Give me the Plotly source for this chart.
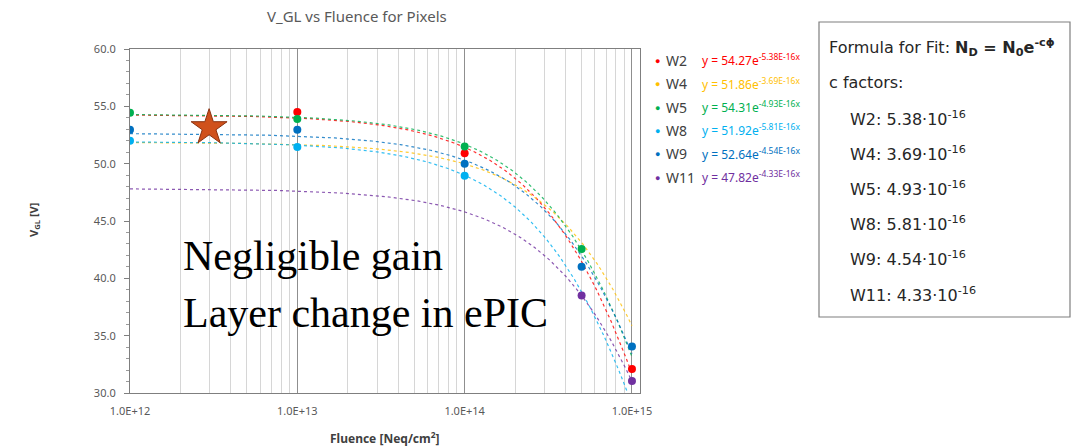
import numpy as np
import plotly.graph_objects as go

# Measured points per wafer
w2_x = [1e13, 1e14, 1e15]
w2_y = [54.5, 50.9, 32.1]
w5_x = [1e12, 1e13, 1e14, 5e14]
w5_y = [54.45, 53.9, 51.5, 42.55]
w8_x = [1e12, 1e13, 1e14]
w8_y = [52.0, 51.45, 48.95]
w9_x = [1e12, 1e13, 1e14, 5e14, 1e15]
w9_y = [52.95, 52.95, 50.0, 41.0, 34.05]
w11_x = [5e14, 1e15]
w11_y = [38.5, 31.05]
w4_x = []
w4_y = []

# Exponential fit parameters y = N0 * exp(-c * fluence)
names = ["W2", "W4", "W5", "W8", "W9", "W11"]
fit_n0 = [54.27, 51.86, 54.31, 51.92, 52.64, 47.82]
fit_c = [5.38e-16, 3.69e-16, 4.93e-16, 5.81e-16, 4.54e-16, 4.33e-16]
fit_c_label = ["5.38E-16x", "3.69E-16x", "4.93E-16x", "5.81E-16x", "4.54E-16x", "4.33E-16x"]
c_mantissa = ["5.38", "3.69", "4.93", "5.81", "4.54", "4.33"]

colors = ["#FF0000", "#FFC000", "#00B050", "#00B0F0", "#0070C0", "#7030A0"]

# Marker of interest
star_x = [2.97e12]
star_y = [53.15]

x_tickvals = [1e12, 1e13, 1e14, 1e15]
x_ticktext = ["1.0E+12", "1.0E+13", "1.0E+14", "1.0E+15"]
y_tickvals = [30, 35, 40, 45, 50, 55, 60]
y_ticktext = ["30.0", "35.0", "40.0", "45.0", "50.0", "55.0", "60.0"]

points = {
    "W2": (w2_x, w2_y), "W4": (w4_x, w4_y), "W5": (w5_x, w5_y),
    "W8": (w8_x, w8_y), "W9": (w9_x, w9_y), "W11": (w11_x, w11_y),
}

# Plot-area geometry in pixels
W, H = 1080, 446
L, R, T, B = 130, 440, 49, 53
PL, PR, PT, PB = L, W - R, T, H - B

fig = go.Figure()

# Dotted fit curves
xs = np.logspace(12, 15, 300)
for name, n0, c, col in zip(names, fit_n0, fit_c, colors):
    fig.add_trace(go.Scatter(
        x=xs, y=n0 * np.exp(-c * xs), mode="lines",
        line=dict(color=col, width=1.2, dash="dot"),
        opacity=0.8, showlegend=False, hoverinfo="skip",
    ))

# Data markers
for name, col in zip(names, colors):
    px_, py_ = points[name]
    fig.add_trace(go.Scatter(
        x=px_, y=py_, mode="markers", name=name,
        marker=dict(color=col, size=8), showlegend=False,
    ))

fig.add_trace(go.Scatter(
    x=star_x, y=star_y, mode="markers",
    marker=dict(symbol="star", size=27, color="#D0511C",
                line=dict(color="#8A3210", width=1)),
    showlegend=False, hoverinfo="skip",
))

font_main = "Noto Sans, Liberation Sans, Arial, sans-serif"
font_box = "DejaVu Sans, Noto Sans, sans-serif"


def px_x(p):
    return (p - PL) / (PR - PL)


def px_y(p):
    return 1 - (p - PT) / (PB - PT)


annotations = []
# Legend with fit equations
row_y0 = 60.5
row_dy = 23.3
for i, (name, n0, lab, col) in enumerate(zip(names, fit_n0, fit_c_label, colors)):
    yy = px_y(row_y0 + i * row_dy)
    annotations.append(dict(xref="paper", yref="paper", x=px_x(657), y=yy,
                            text="●", showarrow=False, xanchor="center", yanchor="middle",
                            font=dict(size=9, color=col, family=font_main)))
    annotations.append(dict(xref="paper", yref="paper", x=px_x(664), y=yy,
                            text=name, showarrow=False, xanchor="left", yanchor="middle",
                            font=dict(size=14, color="#404040", family=font_main)))
    annotations.append(dict(xref="paper", yref="paper", x=px_x(700), y=yy,
                            text=f"y = {n0:.2f}e<sup><span style='font-size:8.5px'>-{lab}</span></sup>",
                            showarrow=False, xanchor="left", yanchor="middle",
                            font=dict(size=12, color=col, family=font_main)))

# Fit formula box
box_lines = [
    (827, 47, "Formula for Fit: <b>N<sub>D</sub> = N<sub>0</sub>e<sup>-cϕ</sup></b>"),
    (827, 83, "c factors:"),
]
for i, (name, m) in enumerate(zip(names, c_mantissa)):
    box_lines.append((848, 118 + i * 35.2, f"{name}: {m}·10<sup>-16</sup>"))
for xp, yp, t in box_lines:
    annotations.append(dict(xref="paper", yref="paper", x=px_x(xp), y=px_y(yp), text=t,
                            showarrow=False, xanchor="left", yanchor="middle",
                            font=dict(size=16, color="#262626", family=font_box)))

# Overlay note
for yp, t in [(256, "Negligible gain"), (313, "Layer change in ePIC")]:
    annotations.append(dict(xref="paper", yref="paper", x=px_x(181), y=px_y(yp), text=t,
                            showarrow=False, xanchor="left", yanchor="middle",
                            font=dict(size=42, color="#000000",
                                      family="Liberation Serif, DejaVu Serif, serif")))

# Title and axis titles
annotations.append(dict(xref="paper", yref="paper", x=px_x(357), y=px_y(16),
                        text="V_GL vs Fluence for Pixels", showarrow=False,
                        xanchor="center", yanchor="middle",
                        font=dict(size=15, color="#595959", family=font_main)))
annotations.append(dict(xref="paper", yref="paper", x=px_x(385), y=px_y(438),
                        text="<b>Fluence [Neq/cm<sup>2</sup>]</b>", showarrow=False,
                        xanchor="center", yanchor="middle",
                        font=dict(size=12, color="#404040", family=font_main)))
annotations.append(dict(xref="paper", yref="paper", x=px_x(34), y=px_y(220),
                        text="<b>V<sub>GL</sub> [V]</b>", showarrow=False, textangle=-90,
                        xanchor="center", yanchor="middle",
                        font=dict(size=11, color="#404040", family=font_main)))

shapes = [dict(type="rect", xref="paper", yref="paper",
               x0=px_x(819), x1=px_x(1070), y0=px_y(317), y1=px_y(22),
               line=dict(color="#7F7F7F", width=1.2), fillcolor="rgba(0,0,0,0)")]

fig.update_layout(
    width=W, height=H,
    margin=dict(l=L, r=R, t=T, b=B),
    paper_bgcolor="white", plot_bgcolor="white",
    annotations=annotations, shapes=shapes,
    font=dict(family=font_main),
)
fig.update_xaxes(
    type="log", range=[12, 15.048],
    tickvals=x_tickvals, ticktext=x_ticktext,
    tickfont=dict(size=11, color="#595959"),
    ticklabelstandoff=8,
    showgrid=True, gridcolor="#8F8F8F", gridwidth=1.2,
    minor=dict(dtick="D1", showgrid=True, gridcolor="#D6D6D6", gridwidth=1, ticks=""),
    showline=True, linecolor="#7F7F7F", linewidth=1.2, mirror=True,
    ticks="", zeroline=False,
)
fig.update_yaxes(
    range=[30, 60], tickvals=y_tickvals, ticktext=y_ticktext,
    tickfont=dict(size=11, color="#595959"),
    ticklabelstandoff=6,
    showgrid=False, zeroline=False,
    showline=True, linecolor="#7F7F7F", linewidth=1.2, mirror=True,
    ticks="outside", ticklen=5, tickcolor="#7F7F7F",
    minor=dict(dtick=1, ticks="outside", ticklen=3, tickcolor="#9A9A9A", showgrid=False),
)

fig.write_html("out.html")
